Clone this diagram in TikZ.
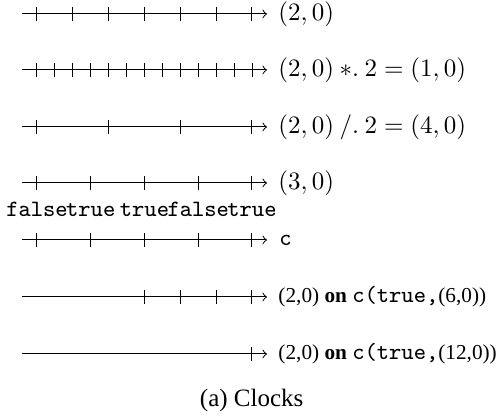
\documentclass[tikz,border=0pt]{standalone}
\usepackage{fontspec}
\setmainfont{Liberation Serif}
\begin{document}
\begin{tikzpicture}[x=0.4pt,y=-0.4pt,
  axis/.style={->,line width=0.4pt},
  tickmark/.style={line width=0.4pt},
  mathlbl/.style={anchor=west,inner sep=0pt,font=\fontsize{10}{12}\selectfont},
  smalllbl/.style={anchor=west,inner sep=0pt,font=\fontsize{8.5}{10}\selectfont},
  ttlbl/.style={anchor=base,inner sep=0pt,font=\fontsize{9.37}{11}\selectfont\ttfamily}]
\useasboundingbox (0,0) rectangle (496,417);
% row 1
\coordinate (s1) at (22,14); \coordinate (e1) at (267,14);
\draw[axis] (s1) -- (e1);
\foreach \k in {0,...,6} \draw[tickmark] ({37+\k*35.833},7) -- ({37+\k*35.833},21);
\node[mathlbl] (t1) at (278,14) {$(2,0)$};
% row 2
\coordinate (s2) at (22,70); \coordinate (e2) at (267,70);
\draw[axis] (s2) -- (e2);
\foreach \k in {0,...,12} \draw[tickmark] ({37+\k*17.917},63) -- ({37+\k*17.917},77);
\node[mathlbl] (t2) at (278,70) {$(2,0)\mathbin{*.}2=(1,0)$};
% row 3
\coordinate (s3) at (22,127); \coordinate (e3) at (267,127);
\draw[axis] (s3) -- (e3);
\foreach \k in {0,...,3} \draw[tickmark] ({37+\k*71.667},120) -- ({37+\k*71.667},134);
\node[mathlbl] (t3) at (278,127) {$(2,0)\mathbin{/.}2=(4,0)$};
% row 4
\coordinate (s4) at (22,183); \coordinate (e4) at (267,183);
\draw[axis] (s4) -- (e4);
\foreach \k in {0,...,4} \draw[tickmark] ({37+\k*53.75},176) -- ({37+\k*53.75},190);
\node[mathlbl] (t4) at (278,183) {$(3,0)$};
% booleans
\node[ttlbl] (b0) at (37,217) {false};
\node[ttlbl] (b1) at (90.75,217) {true};
\node[ttlbl] (b2) at (144.5,217) {true};
\node[ttlbl] (b3) at (198.25,217) {false};
\node[ttlbl] (b4) at (252,217) {true};
% row 5
\coordinate (s5) at (22,240); \coordinate (e5) at (267,240);
\draw[axis] (s5) -- (e5);
\foreach \k in {0,...,4} \draw[tickmark] ({37+\k*53.75},233) -- ({37+\k*53.75},247);
\node[anchor=west,inner sep=0pt,font=\fontsize{9.37}{11}\selectfont\ttfamily] (t5) at (279,240) {c};
% row 6
\coordinate (s6) at (22,297); \coordinate (e6) at (267,297);
\draw[axis] (s6) -- (e6);
\foreach \k in {0,...,3} \draw[tickmark] ({144.5+\k*35.833},290) -- ({144.5+\k*35.833},304);
\node[smalllbl] (t6) at (278,297) {(2,0) $\mathbf{on}$ {\fontsize{9.37}{11}\selectfont\ttfamily c(true,}(6,0))};
% row 7
\coordinate (s7) at (22,354); \coordinate (e7) at (267,354);
\draw[axis] (s7) -- (e7);
\draw[tickmark] (252,347) -- (252,361);
\node[smalllbl] (t7) at (278,354) {(2,0) $\mathbf{on}$ {\fontsize{9.37}{11}\selectfont\ttfamily c(true,}(12,0))};
% caption
\node[anchor=base,inner sep=0pt,font=\fontsize{10}{12}\selectfont] (cap) at (251.7,406.7) {(a) Clocks};
\end{tikzpicture}
\end{document}
